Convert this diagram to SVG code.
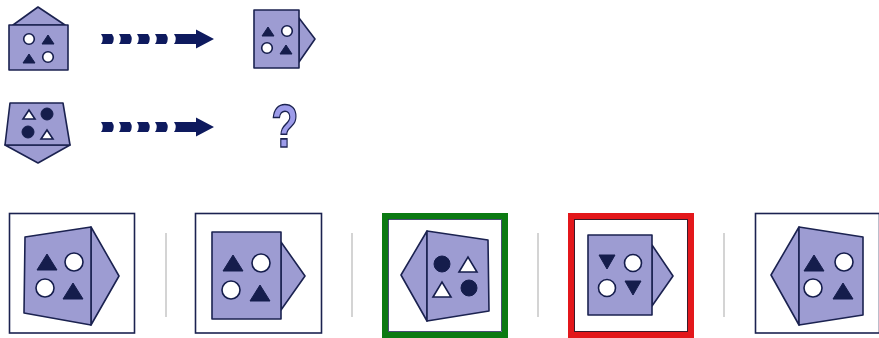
<svg xmlns="http://www.w3.org/2000/svg" width="879" height="338" viewBox="0 0 879 338">
<defs>
<style>
.sh{fill:#9d9cd2;stroke:#1b2250;stroke-width:1.6;stroke-linejoin:round}
.dk{fill:#151d4c;stroke:#151d4c;stroke-width:1}
.wt{fill:#ffffff;stroke:#151d4c;stroke-width:1.6}
.arr{fill:#0e1a5e}
.box{fill:#ffffff;stroke:#1b2250;stroke-width:1.6}
.sep{stroke:#bdbdbd;stroke-width:1.3}
.q{font-family:"Liberation Sans",Arial,sans-serif;font-weight:bold;font-size:62px;fill:#9d9cea;stroke:#1b2250;stroke-width:1.6;text-anchor:middle}
</style>
<path id="dash" d="M0,0 L11,0 Q14.5,5 11,10 L0,10 Q3.5,5 0,0 Z"/>
</defs>
<rect width="879" height="338" fill="#ffffff"/>

<g id="connectors">
<g class="arr">
<use href="#dash" x="101" y="34"/>
<use href="#dash" x="119" y="34"/>
<use href="#dash" x="137" y="34"/>
<use href="#dash" x="155" y="34"/>
<path d="M174,34 L196,34 L196,29.5 L214,39 L196,48.5 L196,44 L174,44 Q177.5,39 174,34 Z"/>
<use href="#dash" x="101" y="122"/>
<use href="#dash" x="119" y="122"/>
<use href="#dash" x="137" y="122"/>
<use href="#dash" x="155" y="122"/>
<path d="M174,122 L196,122 L196,117.5 L214,127 L196,136.5 L196,132 L174,132 Q177.5,127 174,122 Z"/>
</g>
</g>

<g id="q1-start">
<polygon class="sh" points="13,25 38,7 65,25"/>
<rect class="sh" x="9" y="25" width="59" height="45"/>
<circle class="wt" cx="29" cy="39" r="5.3"/>
<polygon class="dk" points="42,44 48,35 54,44"/>
<polygon class="dk" points="23,63 29,54 35,63"/>
<circle class="wt" cx="48" cy="57" r="5.3"/>
</g>

<g id="q1-end">
<polygon class="sh" points="299,18 315,39 299,62"/>
<rect class="sh" x="254" y="10" width="45" height="58"/>
<polygon class="dk" points="262,36 268,27 274,36"/>
<circle class="wt" cx="287" cy="31" r="5.3"/>
<circle class="wt" cx="267" cy="48" r="5.3"/>
<polygon class="dk" points="280,54 286,45 292,54"/>
</g>

<g id="q2-start">
<polygon class="sh" points="5,145 70,145 38,163"/>
<polygon class="sh" points="10,103 63,103 70,145 5,145"/>
<polygon class="wt" points="23,119 29,110 35,119"/>
<circle class="dk" cx="47" cy="114" r="6"/>
<circle class="dk" cx="28" cy="132" r="6"/>
<polygon class="wt" points="41,139 47,130 53,139"/>
</g>

<g id="q2-end">
<text class="q" transform="translate(285,147) scale(0.72,1)" x="0" y="0">?</text>
</g>

<g id="separators">
<line class="sep" x1="166" y1="233" x2="166" y2="317"/>
<line class="sep" x1="352" y1="233" x2="352" y2="317"/>
<line class="sep" x1="538" y1="233" x2="538" y2="317"/>
<line class="sep" x1="724" y1="233" x2="724" y2="317"/>
</g>

<g id="option1">
<rect class="box" x="9.5" y="213.5" width="125" height="119.5"/>
<polygon class="sh" points="91,227 119,276 91,325"/>
<polygon class="sh" points="25,237 91,227 91,325 24,313"/>
<polygon class="dk" points="37,270 47,254 57,270"/>
<circle class="wt" cx="74" cy="262" r="9"/>
<circle class="wt" cx="45" cy="288" r="9"/>
<polygon class="dk" points="63,299 73,283 83,299"/>
</g>

<g id="option2">
<rect class="box" x="195.5" y="213.5" width="126" height="119.5"/>
<polygon class="sh" points="281,242 305,276 281,310"/>
<rect class="sh" x="212" y="232" width="69" height="87"/>
<polygon class="dk" points="223,271 233,255 243,271"/>
<circle class="wt" cx="261" cy="263" r="9"/>
<circle class="wt" cx="231" cy="290" r="9"/>
<polygon class="dk" points="250,301 260,285 270,301"/>
</g>

<g id="option3">
<rect x="385" y="216" width="120" height="119" fill="#ffffff" stroke="#0b7a12" stroke-width="6"/>
<rect x="388.5" y="219.5" width="113" height="112" fill="none" stroke="#1b2250" stroke-width="0.8"/>
<polygon class="sh" points="427,231 401,275 427,321"/>
<polygon class="sh" points="427,231 488,240 489,311 427,321"/>
<circle class="dk" cx="442" cy="264" r="8"/>
<polygon class="wt" points="459,272 468,257 477,272"/>
<polygon class="wt" points="433,297 442,282 451,297"/>
<circle class="dk" cx="469" cy="288" r="8"/>
</g>

<g id="option4">
<rect x="571" y="216" width="120" height="119" fill="#ffffff" stroke="#e3171b" stroke-width="6"/>
<rect x="574.5" y="219.5" width="113" height="112" fill="none" stroke="#3a1a2a" stroke-width="1"/>
<polygon class="sh" points="652,245 673,276 652,306"/>
<rect class="sh" x="588" y="235" width="64" height="80"/>
<polygon class="dk" points="599,255 615,255 607,269"/>
<circle class="wt" cx="633" cy="263" r="8.5"/>
<circle class="wt" cx="607" cy="288" r="8.5"/>
<polygon class="dk" points="625,281 641,281 633,295"/>
</g>

<g id="option5">
<rect class="box" x="755.5" y="213.5" width="124" height="119.5"/>
<polygon class="sh" points="799,227 771,275 799,325"/>
<polygon class="sh" points="799,227 863,237 863,315 799,325"/>
<polygon class="dk" points="804,271 814,255 824,271"/>
<circle class="wt" cx="844" cy="262" r="9"/>
<circle class="wt" cx="813" cy="288" r="9"/>
<polygon class="dk" points="833,299 843,283 853,299"/>
</g>
</svg>
